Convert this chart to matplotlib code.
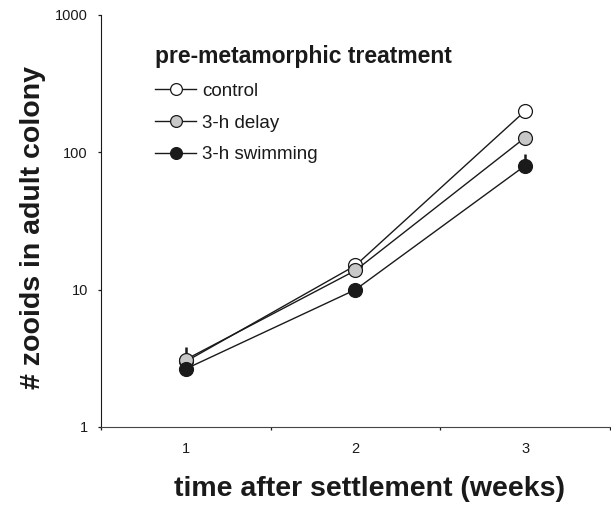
import numpy as np
import matplotlib.pyplot as plt
from matplotlib.ticker import FixedLocator, NullFormatter

plt.rcParams['font.family'] = ['Liberation Sans', 'DejaVu Sans']

# values
weeks = [1, 2, 3]
control = [3.0, 15.0, 200.0]
delay = [3.1, 13.8, 128.0]
swimming = [2.65, 10.0, 80.0]
# upper error bars (only the visible ones)
control_up = [0.0, 0.0, 0.0]
delay_up = [0.7, 0.0, 0.0]
swimming_up = [0.0, 0.0, 17.0]

ink = "#1a1a1a"
fig = plt.figure(figsize=(6.11, 5.05), dpi=100)
ax = fig.add_axes([0.1653, 0.1545, 0.833, 0.8158])

series = [
    ("control", control, control_up, "white"),
    ("3-h delay", delay, delay_up, "#c8c8c8"),
    ("3-h swimming", swimming, swimming_up, ink),
]
z = 2
for label, vals, up, fc in series:
    ax.errorbar(weeks, vals, yerr=[np.zeros(3), up], fmt="none",
                ecolor=ink, elinewidth=1.8, capsize=0, zorder=z)
    ax.plot(weeks, vals, color=ink, lw=1.0, marker="o", markersize=10,
            markerfacecolor=fc, markeredgecolor=ink, markeredgewidth=0.9,
            label=label, zorder=z + 0.5)
    z += 1

ax.set_yscale("log")
ax.set_ylim(1, 1000)
ax.set_xlim(0.5, 3.5)
ax.set_yticks([1, 10, 100, 1000])
ax.set_yticklabels(["1", "10", "100", "1000"])
ax.yaxis.set_minor_locator(plt.NullLocator())
ax.tick_params(axis="y", labelsize=10.5, length=2.5, width=0.9, pad=7, colors=ink)

# category ticks sit between groups, labels at the centres
ax.xaxis.set_major_locator(FixedLocator([0.5, 1.5, 2.5, 3.5]))
ax.xaxis.set_major_formatter(NullFormatter())
ax.xaxis.set_minor_locator(FixedLocator(weeks))
ax.set_xticklabels([str(w) for w in weeks], minor=True)
ax.tick_params(axis="x", which="major", length=2.5, width=0.9, color=ink)
ax.tick_params(axis="x", which="minor", length=0, pad=11, labelsize=10.5, labelcolor=ink)

for s in ["top", "right"]:
    ax.spines[s].set_visible(False)
ax.spines["left"].set_color(ink)
ax.spines["bottom"].set_color("#444444")

ax.set_xlabel("time after settlement (weeks)", fontsize=20.5, fontweight="bold", color=ink)
ax.xaxis.set_label_coords(0.527, -0.12)
ax.set_ylabel("# zooids in adult colony", fontsize=20.5, fontweight="bold", color=ink)
ax.yaxis.set_label_coords(-0.108, 0.485)

leg = ax.legend(title="pre-metamorphic treatment", loc="upper left",
                bbox_to_anchor=(155 / 611, 1 - 45 / 505),
                bbox_transform=fig.transFigure, frameon=False, fontsize=13.5,
                title_fontproperties={"weight": "bold", "size": 16.5},
                handlelength=2.2, handletextpad=0.3, labelspacing=0.78,
                borderpad=0, borderaxespad=0, markerscale=0.85)
leg._legend_box.align = "left"
leg.get_title().set_color(ink)
for t in leg.get_texts():
    t.set_color(ink)

fig.savefig("out.png", dpi=100)
